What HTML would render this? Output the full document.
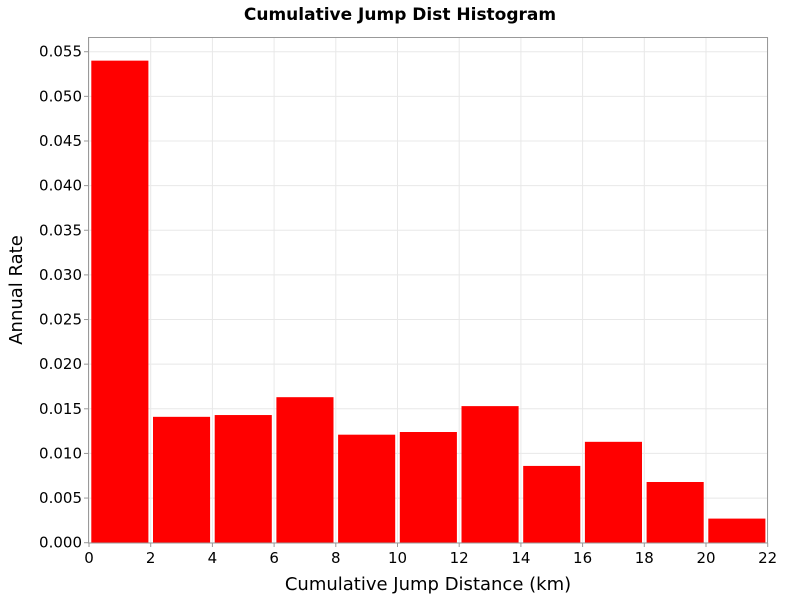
<!DOCTYPE html>
<html><head><meta charset="utf-8"><style>
body{margin:0;background:#fff;font-family:"DejaVu Sans","Liberation Sans",sans-serif}
svg text{font-family:"DejaVu Sans","Liberation Sans",sans-serif}
</style></head><body>
<svg id="chart" width="800" height="600" xmlns="http://www.w3.org/2000/svg">
<rect width="800" height="600" fill="#fff"/>
<text x="400" y="20" text-anchor="middle" font-size="17" font-weight="bold">Cumulative Jump Dist Histogram</text>
<g id="grid"></g>
<g id="bars"></g>
<rect x="88.5" y="37.5" width="679" height="505.5" fill="none" stroke="#999"/>
<g id="xticks"></g>
<g id="yticks"></g>
<text x="428" y="590" text-anchor="middle" font-size="18">Cumulative Jump Distance (km)</text>
<text transform="translate(22,290) rotate(-90)" text-anchor="middle" font-size="18">Annual Rate</text>
</svg>
<script>
const binStarts=[0,2,4,6,8,10,12,14,16,18,20];
const binWidth=2;
const rates=[0.054,0.0141,0.0143,0.0163,0.0121,0.0124,0.0153,0.0086,0.0113,0.0068,0.0027];
const xTicks=[0,2,4,6,8,10,12,14,16,18,20,22];
const yTicks=[0,0.005,0.01,0.015,0.02,0.025,0.03,0.035,0.04,0.045,0.05,0.055];
const X0=89,X1=767.7,Y0=542.7,YK=8927;
const sx=v=>X0+v*(X1-X0)/22;
const sy=v=>Y0-v*YK;
const NS="http://www.w3.org/2000/svg";
const mk=(t,a,p)=>{const e=document.createElementNS(NS,t);for(const k in a)e.setAttribute(k,a[k]);p.appendChild(e);return e;};
const grid=document.getElementById('grid'),bars=document.getElementById('bars');
const xg=document.getElementById('xticks'),yg=document.getElementById('yticks');
xTicks.forEach(v=>{
 const l=mk('line',{x1:sx(v),x2:sx(v),y1:37,y2:543,stroke:'#e8e8e8'},grid);
 
 
 const t=mk('line',{x1:sx(v),x2:sx(v),y1:543,y2:547,stroke:'#999'},xg);
 
 
 const tx=mk('text',{x:sx(v),y:563,'text-anchor':'middle','font-size':15},xg);
 tx.textContent=v;
 
 
});
yTicks.forEach(v=>{
 const l=mk('line',{x1:88,x2:768,y1:sy(v),y2:sy(v),stroke:'#e8e8e8'},grid);
 
 
 const t=mk('line',{x1:84,x2:88,y1:sy(v),y2:sy(v),stroke:'#999'},yg);
 
 
 const tx=mk('text',{x:82,y:sy(v)+5,'text-anchor':'end','font-size':15},yg);
 tx.textContent=v.toFixed(3);
 
 
});
binStarts.forEach((s,i)=>{
 const x=sx(s)+2.3,w=sx(s+binWidth)-sx(s)-4.6;
 const r=mk('rect',{x:x,y:sy(rates[i]),width:w,height:sy(0)-sy(rates[i]),fill:'#ff0000'},bars);
 
 
});
</script>
</body></html>
